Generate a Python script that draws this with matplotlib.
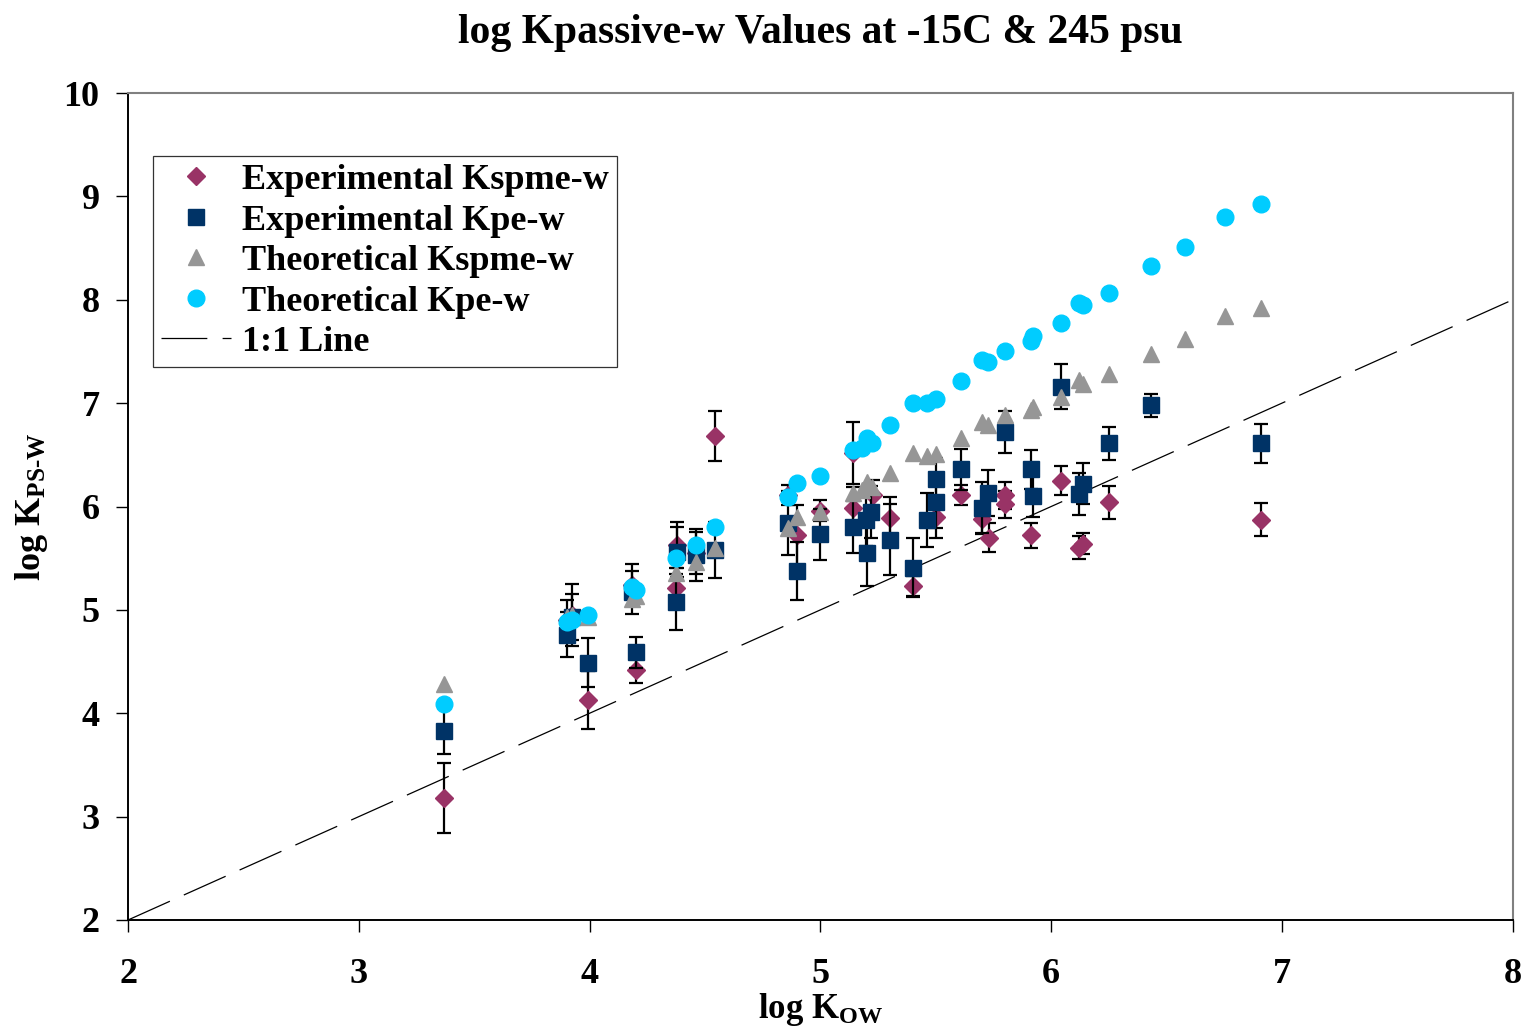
import matplotlib
matplotlib.use('Agg')
import matplotlib.pyplot as plt
from matplotlib.lines import Line2D
import numpy as np

plt.rcParams['font.family'] = ['Liberation Serif', 'DejaVu Serif']
plt.rcParams['font.weight'] = 'bold'
plt.rcParams['mathtext.fontset'] = 'custom'
plt.rcParams['mathtext.rm'] = 'Liberation Serif:bold'
plt.rcParams['mathtext.it'] = 'Liberation Serif:bold'
plt.rcParams['mathtext.bf'] = 'Liberation Serif:bold'
plt.rcParams['lines.scale_dashes'] = False

# experimental SPME-water partition coefficients (log), with error
exp_spme_x = [3.369, 3.902, 3.924, 3.993, 4.183, 4.201, 4.374, 4.378, 4.461, 4.543,
              4.859, 4.898, 4.998, 5.141, 5.141, 5.227, 5.301, 5.401, 5.500, 5.609,
              5.700, 5.730, 5.799, 5.799, 5.912, 6.042, 6.120, 6.137, 6.250, 6.908]
exp_spme_y = [3.18, 4.90, 4.95, 4.13, 5.24, 4.42, 5.21, 5.63, 5.55, 6.68,
              6.11, 5.72, 5.96, 6.52, 5.99, 6.11, 5.89, 5.23, 5.90, 6.11,
              5.88, 5.70, 6.11, 6.02, 5.72, 6.25, 5.60, 5.64, 6.04, 5.87]
exp_spme_err = [0.34, 0.20, 0.30, 0.28, 0.20, 0.13, 0.20, 0.22, 0.20, 0.24,
                0.10, 0.29, 0.10, 0.30, 0.20, 0.15, 0.20, 0.10, 0.20, 0.10,
                0.15, 0.14, 0.13, 0.13, 0.12, 0.14, 0.11, 0.10, 0.16, 0.16]

# experimental PE-water partition coefficients (log), with error
exp_pe_x = [3.369, 3.902, 3.924, 3.993, 4.183, 4.201, 4.374, 4.378, 4.461, 4.543,
            4.859, 4.898, 4.998, 5.141, 5.197, 5.201, 5.219, 5.301, 5.401, 5.461,
            5.500, 5.500, 5.609, 5.700, 5.726, 5.799, 5.912, 5.921, 6.042, 6.120,
            6.137, 6.250, 6.432, 6.908]
exp_pe_y = [3.83, 4.76, 4.93, 4.49, 5.17, 4.59, 5.08, 5.56, 5.53, 5.58,
            5.84, 5.38, 5.73, 5.80, 5.87, 5.55, 5.95, 5.68, 5.41, 5.87,
            6.27, 6.04, 6.36, 5.99, 6.13, 6.72, 6.36, 6.10, 7.16, 6.12,
            6.22, 6.61, 6.98, 6.61]
exp_pe_err = [0.22, 0.22, 0.22, 0.24, 0.21, 0.15, 0.27, 0.24, 0.25, 0.27,
              0.31, 0.28, 0.25, 0.25, 0.25, 0.32, 0.25, 0.34, 0.29, 0.26,
              0.20, 0.25, 0.20, 0.25, 0.22, 0.20, 0.19, 0.20, 0.22, 0.20,
              0.20, 0.16, 0.11, 0.19]

# theoretical values
theo_x = [3.369, 3.902, 3.924, 3.993, 4.183, 4.201, 4.374, 4.461, 4.543, 4.859,
          4.898, 4.998, 5.141, 5.180, 5.201, 5.223, 5.301, 5.401, 5.461, 5.500,
          5.609, 5.700, 5.726, 5.799, 5.912, 5.921, 6.042, 6.120, 6.137, 6.250,
          6.432, 6.579, 6.752, 6.908]
theo_spme_y = [4.28, 4.93, 4.95, 4.93, 5.11, 5.13, 5.36, 5.46, 5.60, 5.79,
               5.90, 5.95, 6.13, 6.16, 6.24, 6.19, 6.32, 6.52, 6.49, 6.51,
               6.66, 6.82, 6.79, 6.89, 6.93, 6.96, 7.06, 7.22, 7.19, 7.28,
               7.48, 7.62, 7.84, 7.92]
theo_pe_y = [4.09, 4.88, 4.90, 4.95, 5.22, 5.19, 5.50, 5.63, 5.80, 6.09,
             6.23, 6.30, 6.55, 6.57, 6.66, 6.61, 6.79, 7.00, 7.00, 7.04,
             7.21, 7.42, 7.40, 7.50, 7.60, 7.65, 7.78, 7.97, 7.95, 8.07,
             8.33, 8.51, 8.80, 8.93]

one_to_one = [2, 8]

MAG, NAVY, GREY, CYAN = '#993366', '#003366', '#969696', '#00CCFF'
DASH = (33, 11)

fig = plt.figure(figsize=(15.28, 10.27), dpi=100)
ax = fig.add_axes([0.0838, 0.1042, 0.9062, 0.8052])

ax.plot(one_to_one, one_to_one, color='black', lw=0.9, dashes=DASH, zorder=1)

ax.errorbar(exp_spme_x, exp_spme_y, yerr=exp_spme_err, fmt='D', ms=9.5,
            color=MAG, mec=MAG, ecolor='black', elinewidth=1.6,
            capsize=5, capthick=1.6, zorder=2)
ax.errorbar(exp_pe_x, exp_pe_y, yerr=exp_pe_err, fmt='s', ms=12,
            color=NAVY, mec=NAVY, ecolor='black', elinewidth=1.6,
            capsize=5, capthick=1.6, zorder=3)
ax.plot(theo_x, theo_spme_y, '^', ms=12, color=GREY, ls='none', zorder=4)
ax.plot(theo_x, theo_pe_y, 'o', ms=12, color=CYAN, ls='none', zorder=5)

ax.set_xlim(2, 8)
ax.set_ylim(2, 10)
ax.set_xticks(range(2, 9))
ax.set_yticks(range(2, 11))
ax.tick_params(direction='out', length=8.5, width=1.0, labelsize=26)
ax.tick_params(axis='x', pad=19)
ax.tick_params(axis='y', pad=12)
for s in ['top', 'right']:
    ax.spines[s].set_color('#808080')
    ax.spines[s].set_linewidth(1.5)
for s in ['left', 'bottom']:
    ax.spines[s].set_linewidth(1.4)

ax.set_title('log Kpassive-w Values at -15C & 245 psu', fontsize=30,
             fontweight='bold', pad=36)
ax.set_xlabel(r'log K$_{\mathrm{OW}}$', fontsize=25, fontweight='bold',
              labelpad=0)
ax.set_ylabel(r'log K$_{\mathrm{PS\text{-}W}}$', fontsize=26, fontweight='bold',
              labelpad=10)

handles = [
    Line2D([], [], ls='none', marker='D', ms=9.5, color=MAG),
    Line2D([], [], ls='none', marker='s', ms=12, color=NAVY),
    Line2D([], [], ls='none', marker='^', ms=12, color=GREY),
    Line2D([], [], ls='none', marker='o', ms=12, color=CYAN),
    Line2D([], [], color='black', lw=0.9, dashes=DASH),
]
labels = ['Experimental Kspme-w', 'Experimental Kpe-w', 'Theoretical Kspme-w',
          'Theoretical Kpe-w', '1:1 Line']
leg = ax.legend(handles, labels, loc='upper left', bbox_to_anchor=(0.018, 0.924),
                borderaxespad=0, fontsize=26, frameon=True, fancybox=False,
                edgecolor='black', handlelength=1.95, handletextpad=0.3,
                labelspacing=0.2, borderpad=0.22)
leg.get_frame().set_linewidth(0.9)

fig.savefig('out.png', dpi=100)
